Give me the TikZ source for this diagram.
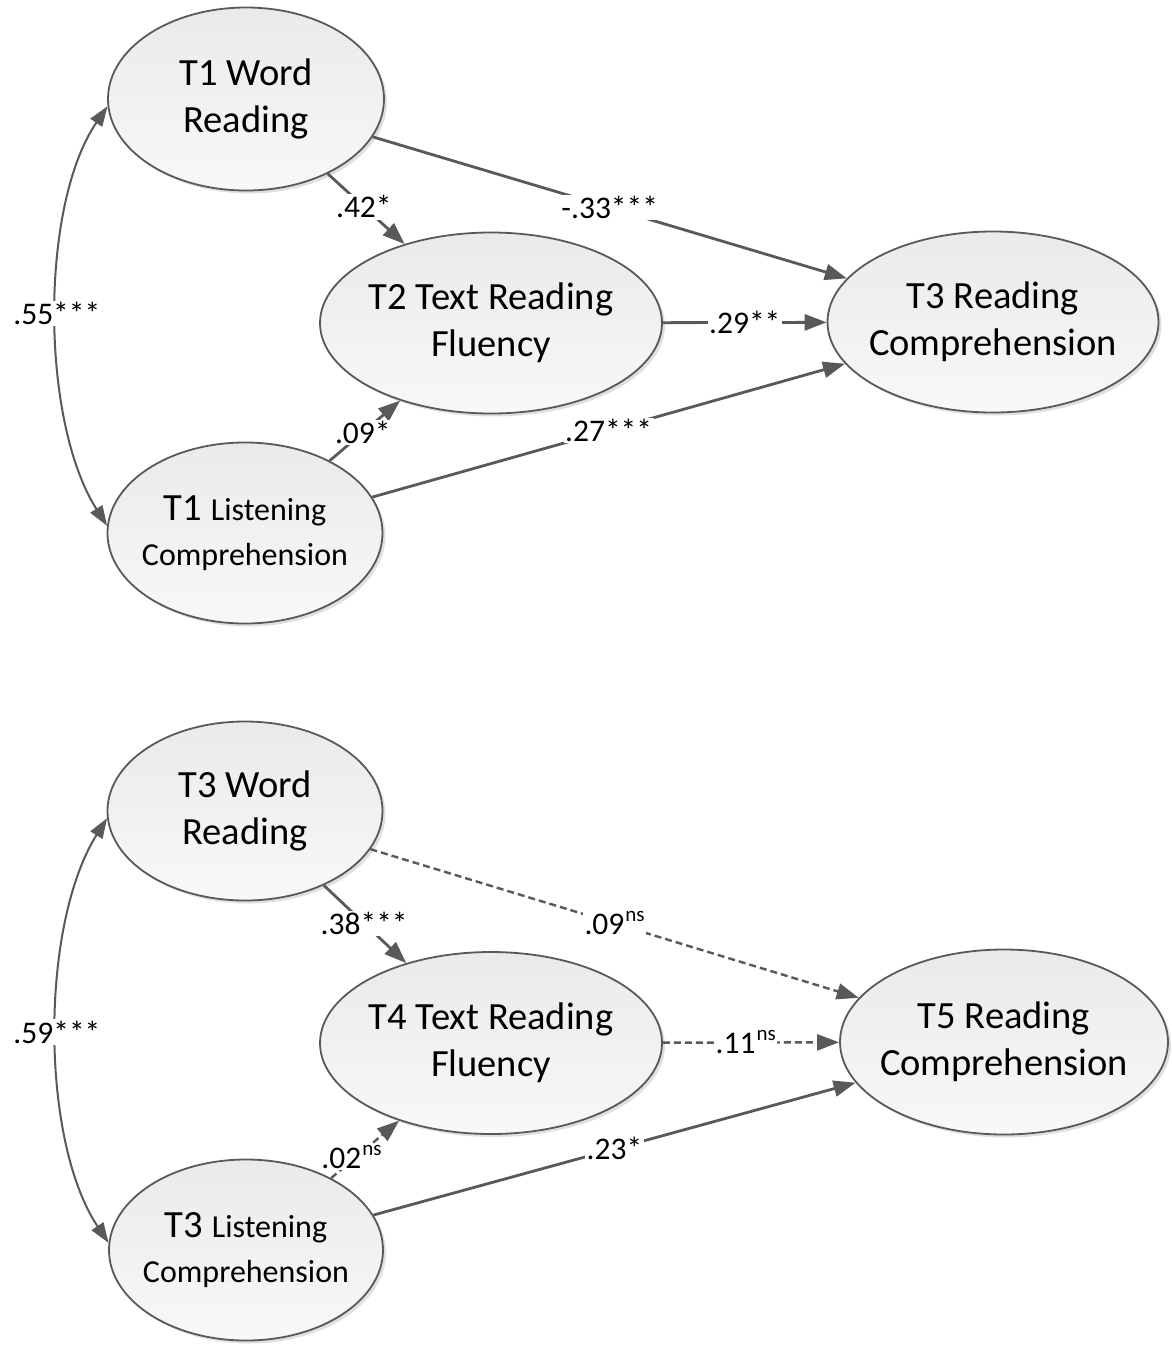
\documentclass[tikz,border=0pt]{standalone}
\usepackage{fontspec}
\setmainfont{Carlito}
\usetikzlibrary{arrows.meta,shapes.geometric,shadows}
\definecolor{edgec}{HTML}{595959}
\definecolor{topc}{HTML}{EAEAEA}
\definecolor{botc}{HTML}{F8F8F8}
\newcommand{\nsup}{\hspace{1pt}\raisebox{13pt}{\fontsize{21}{22}\selectfont ns}}
\begin{document}
\begin{tikzpicture}[x=1pt,y=1pt,
  latent/.style={ellipse, draw=edgec, line width=1.8pt, top color=topc, bottom color=botc,
    inner xsep=-30pt, inner ysep=0pt, align=center, text=black,
    font=\fontsize{38.5}{47}\selectfont,
    drop shadow={shadow xshift=3pt, shadow yshift=-3pt, opacity=0.12, fill=black}},
  arr/.style={-{Triangle[length=22pt,width=16pt]}, draw=edgec, line width=2.8pt},
  nsarr/.style={arr, dash pattern=on 7pt off 4pt, line width=2.4pt},
  corr/.style={{Triangle[length=20pt,width=14pt]}-{Triangle[length=20pt,width=14pt]}, draw=edgec, line width=2pt},
  coef/.style={fill=white, inner sep=1.5pt, text=black, font=\fontsize{31.5}{36}\selectfont, pos=0.5}
]
\useasboundingbox[fill=white] (0,0) rectangle (1171,-1345);

% ---------- upper model ----------
\node[latent, minimum width=276pt, minimum height=183pt] (wr1) at (246,-99) {T1 Word\\Reading};
\node[latent, minimum width=342pt, minimum height=181pt] (trf1) at (491,-323) {T2 Text Reading\\Fluency};
\node[latent, minimum width=331pt, minimum height=181pt] (rc1) at (993,-322) {T3 Reading\\Comprehension};
\node[latent, minimum width=275pt, minimum height=181pt] (lc1) at (245,-533)
  {T1 {\fontsize{32}{45}\selectfont Listening}\\[-2pt]{\fontsize{32}{45}\selectfont Comprehension}};

\draw[arr] (wr1) -- node[coef, pos=0.47]{.42*} (trf1);
\draw[arr] (wr1) -- node[coef]{-.33***} (rc1);
\draw[arr] (trf1) -- node[coef]{.29**} (rc1);
\draw[arr] (lc1) -- node[coef, pos=0.47]{.09*} (trf1);
\draw[arr] (lc1) -- node[coef]{.27***} (rc1);
\draw[corr] (wr1.183) .. controls (40,-205) and (40,-420) .. node[coef]{.55***} (lc1.177);

% ---------- lower model ----------
\node[latent, minimum width=275pt, minimum height=179pt] (wr2) at (245,-811) {T3 Word\\Reading};
\node[latent, minimum width=342pt, minimum height=182pt] (trf2) at (491,-1043) {T4 Text Reading\\Fluency};
\node[latent, minimum width=328pt, minimum height=185pt] (rc2) at (1004,-1042) {T5 Reading\\Comprehension};
\node[latent, minimum width=274pt, minimum height=181pt] (lc2) at (246,-1250)
  {T3 {\fontsize{32}{45}\selectfont Listening}\\[-2pt]{\fontsize{32}{45}\selectfont Comprehension}};

\draw[arr] (wr2) -- node[coef, pos=0.49]{.38***} (trf2);
\draw[nsarr] (wr2) -- node[coef]{.09\nsup} (rc2);
\draw[nsarr] (trf2) -- node[coef, pos=0.47]{.11\nsup} (rc2);
\draw[nsarr] (lc2) -- node[coef, pos=0.3, yshift=4pt]{.02\nsup} (trf2);
\draw[arr] (lc2) -- node[coef]{.23*} (rc2);
\draw[corr] (wr2.183) .. controls (40,-925) and (40,-1140) .. node[coef]{.59***} (lc2.177);
\end{tikzpicture}
\end{document}
